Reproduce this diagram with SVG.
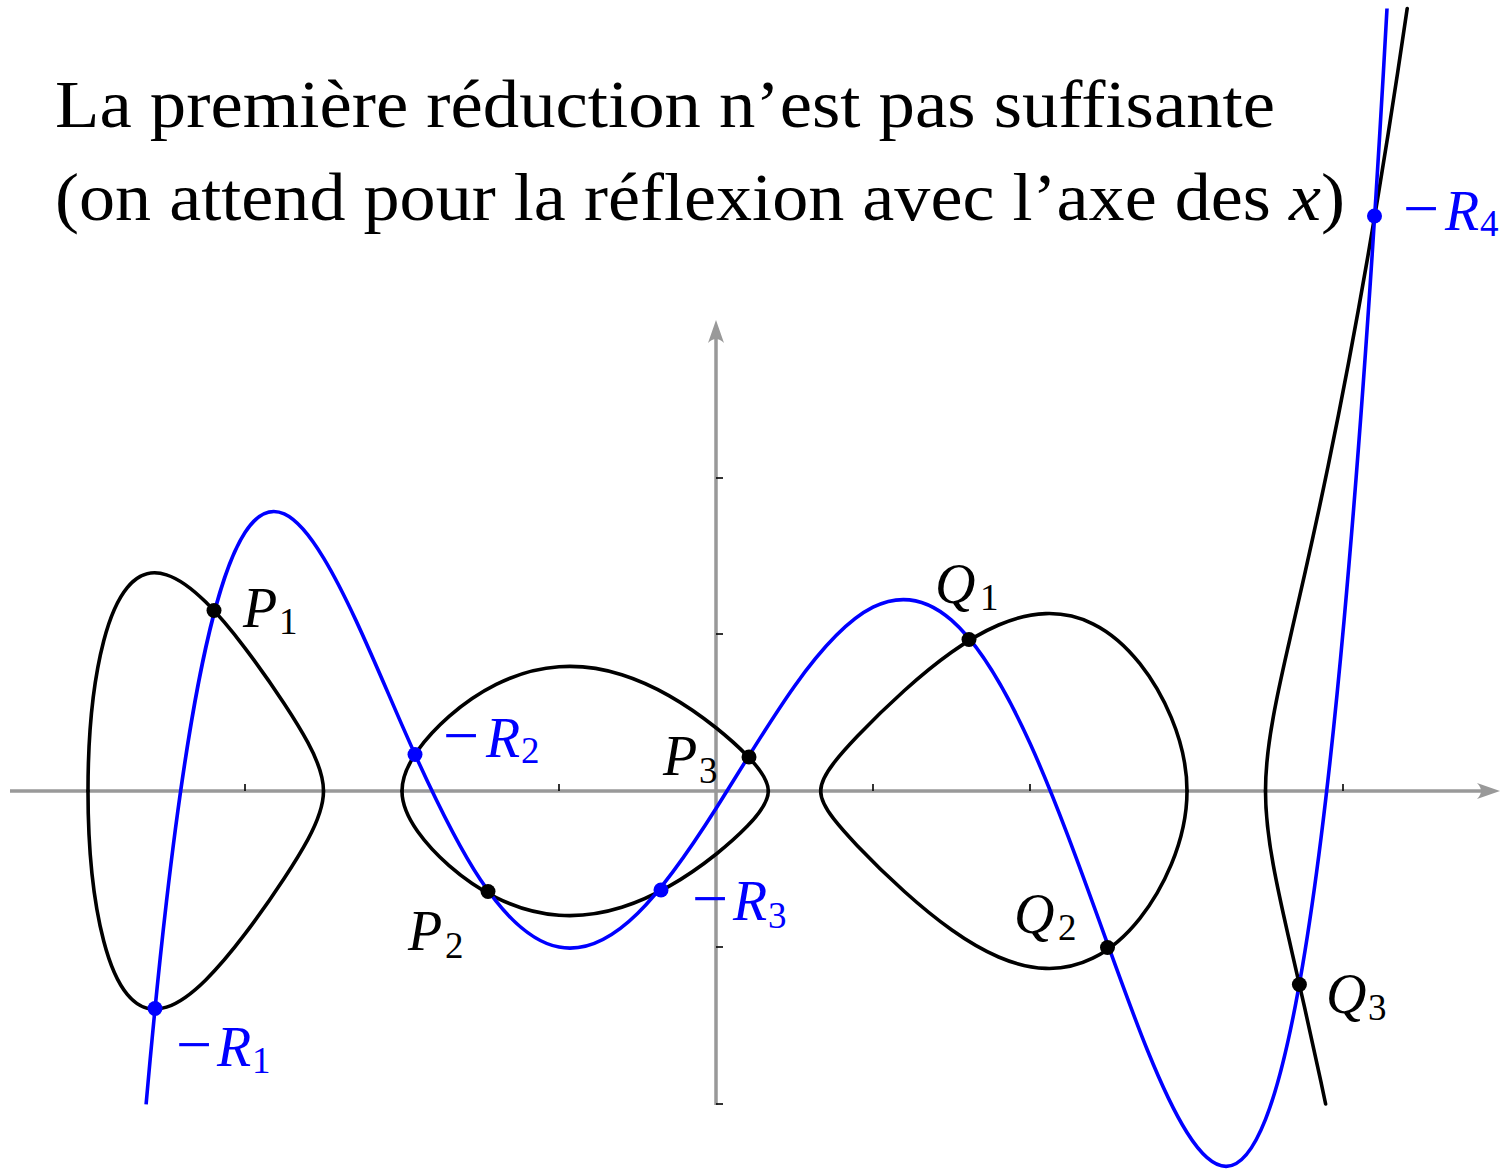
<svg xmlns="http://www.w3.org/2000/svg" width="1510" height="1169" viewBox="0 0 1510 1169">
<defs>
<style>
.axis{stroke:#999;stroke-width:3.5;fill:none}
.tick{stroke:#000;stroke-width:1.6}
.blk{stroke:#000;stroke-width:3.6;fill:none;stroke-linecap:round;stroke-linejoin:round}
.blu{stroke:#00f;stroke-width:3.6;fill:none;stroke-linejoin:round}
.title{font-family:"Liberation Serif","Times New Roman",serif;font-size:68px;fill:#000}
.lab{font-family:"Liberation Serif","Times New Roman",serif;font-size:56px}
.it{font-style:italic}
.sub{font-size:37px;font-style:normal}
.mn{font-size:64px}
.k{fill:#000}
.b{fill:#00f}
</style>
<marker id="arr" viewBox="-34 -10 36 20" refX="-10" refY="0" markerWidth="36" markerHeight="20" markerUnits="userSpaceOnUse" orient="auto">
<path d="M0,0 L-23,-8 Q-15,0 -23,8 Z" fill="#999"/>
</marker>
<path id="loopL" d="M88,791 Q88,701.17 103.7,640.97 C111.55,610.87 119.40,597.11 127.25,587.59 C140.33,571.73 153.42,570.66 166.5,574.84 C179.58,579.02 192.67,589.16 205.75,602.09 C218.83,615.02 231.92,630.83 245,648.06 C258.08,665.29 271.17,683.86 284.25,703.79 C292.10,715.75 299.95,727.96 307.8,742.45 Q323.5,771.44 323.5,791"/>
<path id="loopM" d="M402,791 Q402,772.62 417.7,750.52 C428.17,735.79 438.63,725.60 449.1,716.40 C464.8,702.60 480.5,692.24 496.2,684.41 C517.13,673.98 538.07,668.25 559,666.78 C579.93,665.31 600.87,668.12 621.8,674.69 C637.5,679.62 653.2,686.66 668.9,695.57 C684.6,704.48 700.3,715.20 716,727.75 C726.47,736.12 736.93,745.13 747.4,755.93 Q768.33,777.53 768.33,791"/>
<path id="loopR" d="M820.67,791 Q820.67,779.90 833.75,763.04 C841.6,752.92 849.45,744.57 857.3,736.32 C873.0,719.83 888.7,704.64 904.4,690.50 C920.1,676.36 935.8,663.41 951.5,652.25 C967.2,641.09 982.9,631.75 998.6,625.02 C1014.3,618.29 1030.0,614.17 1045.7,613.61 C1061.4,613.05 1077.1,616.02 1092.8,623.77 C1108.5,631.52 1124.2,643.85 1139.9,663.68 C1150.37,676.90 1160.83,692.45 1171.3,717.63 Q1187,755.40 1187,791"/>
</defs>
<rect width="1510" height="1169" fill="#fff"/>

<g id="title">
<text class="title" x="55" y="127" textLength="1220" lengthAdjust="spacingAndGlyphs">La première réduction n’est pas suffisante</text>
<text class="title" x="55" y="220" textLength="1290" lengthAdjust="spacingAndGlyphs">(on attend pour la réflexion avec l’axe des <tspan class="it">x</tspan>)</text>
</g>

<g id="axes">
<line class="axis" x1="10" y1="791" x2="1490" y2="791" marker-end="url(#arr)"/>
<line class="axis" x1="716" y1="1105" x2="716" y2="330" marker-end="url(#arr)"/>
<g class="tick">
<line x1="245" y1="791" x2="245" y2="784"/>
<line x1="559" y1="791" x2="559" y2="784"/>
<line x1="873" y1="791" x2="873" y2="784"/>
<line x1="1030" y1="791" x2="1030" y2="784"/>
<line x1="1343" y1="791" x2="1343" y2="784"/>
<line x1="716" y1="478" x2="723" y2="478"/>
<line x1="716" y1="634" x2="723" y2="634"/>
<line x1="716" y1="947" x2="723" y2="947"/>
<line x1="716" y1="1104" x2="723" y2="1104"/>
</g>
</g>

<g id="connectors">
<g id="curve-black" class="blk">
<use href="#loopL"/>
<use href="#loopL" transform="matrix(1 0 0 -1 0 1582)"/>
<use href="#loopM"/>
<use href="#loopM" transform="matrix(1 0 0 -1 0 1582)"/>
<use href="#loopR"/>
<use href="#loopR" transform="matrix(1 0 0 -1 0 1582)"/>
<path d="M1265.5,791 Q1265.5,759.27 1273.35,716.55 C1278.58,688.07 1283.82,665.74 1289.05,642.73 C1294.28,619.72 1299.52,596.63 1304.75,573.84 C1312.6,539.02 1320.45,503.08 1328.3,465.18 C1341.38,402.01 1354.47,333.46 1367.55,258.13 C1380.77,182.01 1393.98,99.24 1407.2,8.5"/>
<path d="M1265.5,791 Q1265.5,822.73 1273.35,865.45 C1278.58,893.93 1283.82,916.26 1289.05,939.27 C1294.28,962.28 1299.52,985.37 1304.75,1008.16 C1311.55,1038.32 1318.83,1071.60 1325.63,1104"/>
</g>
<path id="curve-blue" class="blu" d="M146.09,1104.33 C152.89,1027.33 159.70,960.07 166.5,901.30 C192.67,675.24 218.83,572.67 245,532.48 C271.17,492.29 297.33,514.68 323.5,557.88 C349.67,601.08 375.83,665.31 402,725.13 C428.17,784.95 454.33,840.56 480.5,879.81 C506.67,919.06 532.83,942.13 559,947.10 C585.17,952.07 611.33,939.13 637.5,913.50 C663.67,887.87 689.83,849.75 716,808.48 C742.17,767.21 768.33,722.99 794.5,686.21 C820.67,649.43 846.83,620.31 873,607.23 C899.17,594.15 925.33,597.34 951.5,620.14 C977.67,642.94 1003.83,685.55 1030,743.27 C1056.17,800.99 1082.33,874.01 1108.5,946.44 C1134.67,1018.87 1160.83,1090.93 1187,1132.54 C1213.17,1174.15 1239.33,1185.52 1265.5,1119.33 C1291.67,1053.14 1317.83,909.59 1344,621.06 C1358.34,462.93 1372.66,267.6 1387,8.5"/>
</g>

<g id="P1"><circle class="k" cx="214" cy="610.5" r="7.5"/><text class="lab k" x="243" y="627"><tspan class="it">P</tspan><tspan class="sub" x="279" y="634">1</tspan></text></g>
<g id="P2"><circle class="k" cx="488" cy="891.5" r="7.5"/><text class="lab k" x="408" y="950"><tspan class="it">P</tspan><tspan class="sub" x="445" y="958">2</tspan></text></g>
<g id="P3"><circle class="k" cx="749" cy="757" r="7.5"/><text class="lab k" x="663" y="775"><tspan class="it">P</tspan><tspan class="sub" x="699" y="783">3</tspan></text></g>
<g id="Q1"><circle class="k" cx="969" cy="639.5" r="7.5"/><text class="lab k" x="935" y="603"><tspan class="it">Q</tspan><tspan class="sub" x="980" y="610">1</tspan></text></g>
<g id="Q2"><circle class="k" cx="1107.5" cy="947.5" r="7.5"/><text class="lab k" x="1014" y="933"><tspan class="it">Q</tspan><tspan class="sub" x="1058" y="940">2</tspan></text></g>
<g id="Q3"><circle class="k" cx="1299.4" cy="984.5" r="7.5"/><text class="lab k" x="1326" y="1013"><tspan class="it">Q</tspan><tspan class="sub" x="1368" y="1020">3</tspan></text></g>
<g id="mR1"><circle class="b" cx="155" cy="1008.5" r="7.5"/><text class="lab b" x="176" y="1066"><tspan class="mn">−</tspan><tspan class="it" x="217">R</tspan><tspan class="sub" x="252" y="1073">1</tspan></text></g>
<g id="mR2"><circle class="b" cx="415" cy="754.5" r="7.5"/><text class="lab b" x="443" y="757"><tspan class="mn">−</tspan><tspan class="it" x="486">R</tspan><tspan class="sub" x="521" y="763">2</tspan></text></g>
<g id="mR3"><circle class="b" cx="661" cy="890" r="7.5"/><text class="lab b" x="692" y="920"><tspan class="mn">−</tspan><tspan class="it" x="733">R</tspan><tspan class="sub" x="768" y="928">3</tspan></text></g>
<g id="mR4"><circle class="b" cx="1374.5" cy="216" r="7.5"/><text class="lab b" x="1403" y="230"><tspan class="mn">−</tspan><tspan class="it" x="1445">R</tspan><tspan class="sub" x="1480" y="236">4</tspan></text></g>
</svg>
